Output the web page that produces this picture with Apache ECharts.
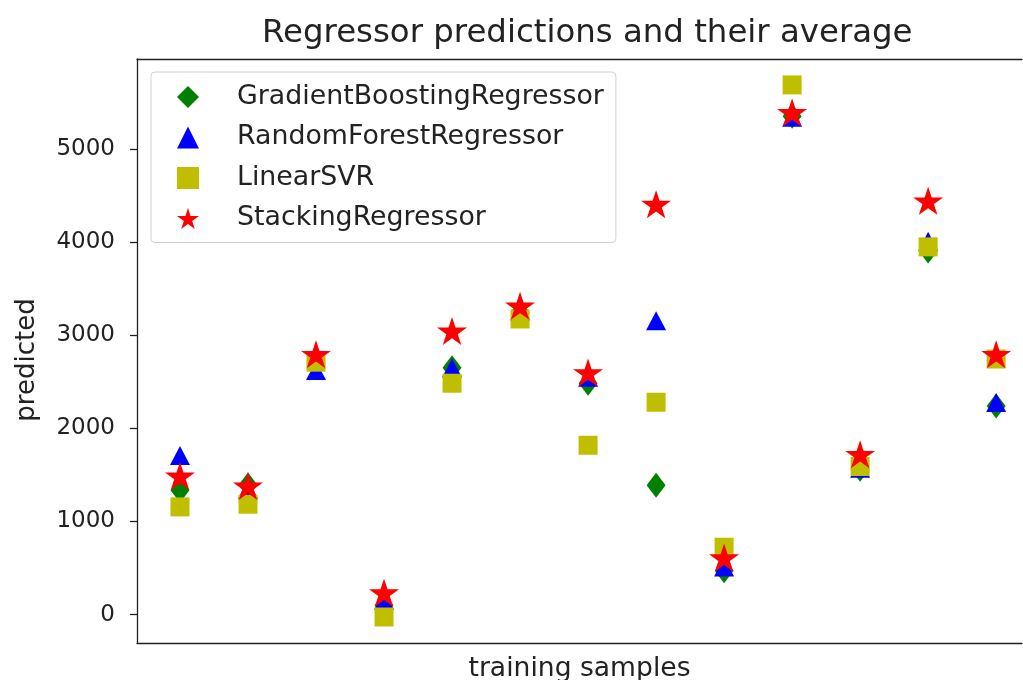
<!DOCTYPE html>
<html>
<head>
<meta charset="utf-8">
<script src="https://cdn.jsdelivr.net/npm/echarts@6/dist/echarts.min.js"></script>
<style>
    html, body { margin: 0; padding: 0; background: #fff; }
    #chart { width: 1023px; height: 680px; }
</style>
</head>
<body>
<div id="chart"></div>
<script>
// training sample index
const samples = [0, 1, 2, 3, 4, 5, 6, 7, 8, 9, 10, 11, 12]
// predictions
const gbr = [1335, 1390, 2700, 100, 2650, 3250, 2485, 1389, 470, 5350, 1560, 3904, 2240]
const rfr = [1708, 1345, 2620, 154, 2648, 3260, 2549, 3154, 510, 5340, 1570, 4008, 2277]
const svr = [1156, 1185, 2710, -26, 2484, 3174, 1818, 2280, 723, 5687, 1590, 3948, 2744]
const stack = [1478, 1371, 2785, 225, 3035, 3304, 2589, 4396, 601, 5381, 1711, 4432, 2785]
const yTicks = [0, 1000, 2000, 3000, 4000, 5000]

const font = 'DejaVu Sans'
const ink = '#222'
const starPath = 'path://M0,-1000L224,-309L951,-309L363,118L588,809L0,382L-588,809L-363,118L-951,-309L-224,-309Z'

const pts = (vals) => vals.map((v, i) => [samples[i], v])

// the axes run past the right edge of the picture, so only left/top/bottom spines show
const spine = { show: true, onZero: false, lineStyle: { color: ink, width: 1.3 } }

const myChart = echarts.init(document.getElementById('chart'))
myChart.setOption({
    animation: false,
    backgroundColor: '#fff',
    title: {
        text: 'Regressor predictions and their average',
        left: 257,
        top: 13,
        textStyle: {
            fontFamily: font,
            fontSize: 32.4,
            fontWeight: 'normal',
            color: ink
        }
    },
    legend: {
        orient: 'vertical',
        left: 151,
        top: 72,
        padding: [10, 12, 9, 26],
        itemWidth: 22,
        itemHeight: 22,
        itemGap: 10.5,
        backgroundColor: 'rgba(255,255,255,0.8)',
        borderColor: '#d0d0d0',
        borderWidth: 1,
        borderRadius: 4,
        textStyle: {
            fontFamily: font,
            fontSize: 26.8,
            lineHeight: 30,
            color: ink,
            padding: [0, 0, 0, 33]
        }
    },
    grid: {
        left: 137,
        top: 59,
        right: 1,
        bottom: 37,
        containLabel: false,
        outerBoundsMode: 'none'
    },
    xAxis: [
        {
            type: 'value',
            min: -0.632,
            max: 12.38,
            name: 'training samples',
            nameLocation: 'middle',
            nameGap: 13,
            nameTextStyle: {
                fontFamily: font,
                fontSize: 26.6,
                color: ink
            },
            axisLine: spine,
            axisTick: { show: false },
            axisLabel: { show: false },
            splitLine: { show: false }
        },
        {
            type: 'value',
            position: 'top',
            min: -0.632,
            max: 12.38,
            axisLine: spine,
            axisTick: { show: false },
            axisLabel: { show: false },
            splitLine: { show: false }
        }
    ],
    yAxis: {
        type: 'value',
        min: -305,
        max: 5965,
        name: 'predicted',
        nameLocation: 'middle',
        nameGap: 97,
        nameTextStyle: {
            fontFamily: font,
            fontSize: 26,
            color: ink,
            padding: [0, 18, 0, 0]
        },
        axisLine: spine,
        axisTick: {
            show: true,
            length: 7,
            customValues: yTicks,
            lineStyle: { color: ink, width: 1.3 }
        },
        axisLabel: {
            customValues: yTicks,
            formatter: (v) => String(v),
            margin: 22,
            fontFamily: font,
            fontSize: 23,
            color: ink
        },
        splitLine: { show: false }
    },
    series: [
        {
            name: 'GradientBoostingRegressor',
            type: 'scatter',
            symbol: 'diamond',
            symbolSize: [19, 25],
            itemStyle: { color: '#008000', opacity: 1 },
            data: pts(gbr)
        },
        {
            name: 'RandomForestRegressor',
            type: 'scatter',
            symbol: 'triangle',
            symbolSize: [20, 19],
            itemStyle: { color: '#0000ff', opacity: 1 },
            data: pts(rfr)
        },
        {
            name: 'LinearSVR',
            type: 'scatter',
            symbol: 'rect',
            symbolSize: 19,
            itemStyle: { color: '#bfbf00', opacity: 1 },
            data: pts(svr)
        },
        {
            name: 'StackingRegressor',
            type: 'scatter',
            symbol: starPath,
            symbolSize: [30, 28],
            symbolOffset: [0, -1],
            itemStyle: { color: '#ff0000', opacity: 1 },
            data: pts(stack)
        }
    ]
})
</script>
</body>
</html>
